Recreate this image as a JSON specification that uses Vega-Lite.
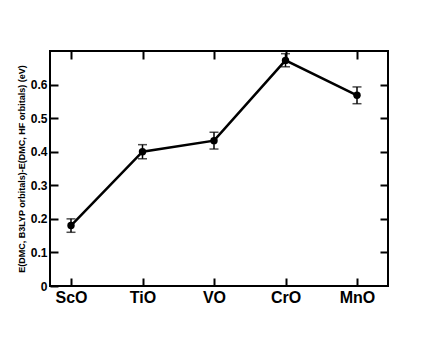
{
  "$schema": "https://vega.github.io/schema/vega-lite/v6.json",
  "autosize": "none",
  "width": 338,
  "height": 235,
  "padding": {"left": 50, "top": 51, "right": 48, "bottom": 51},
  "background": "white",
  "config": {
    "view": {"stroke": "black", "strokeWidth": 2},
    "font": "Liberation Sans",
    "axis": {"domain": false, "grid": false, "zindex": 1, "tickColor": "#000000", "tickWidth": 2, "tickOpacity": 1, "labelColor": "black", "labelFont": "Liberation Sans", "labelFontWeight": "bold", "titleFont": "Liberation Sans", "titleColor": "black"}
  },
  "data": {"values": [
    {"mol": "ScO", "e": 0.18, "lo": 0.16, "hi": 0.2},
    {"mol": "TiO", "e": 0.4, "lo": 0.379, "hi": 0.421},
    {"mol": "VO", "e": 0.433, "lo": 0.408, "hi": 0.458},
    {"mol": "CrO", "e": 0.672, "lo": 0.653, "hi": 0.692},
    {"mol": "MnO", "e": 0.568, "lo": 0.543, "hi": 0.593}
  ]},
  "resolve": {"axis": {"x": "independent", "y": "independent"}},
  "layer": [
    {
      "mark": {"type": "line", "color": "black", "strokeWidth": 2.5},
      "encoding": {
        "x": {"field": "mol", "type": "nominal", "sort": null,
              "scale": {"type": "point", "range": [21, 307], "padding": 0},
              "axis": {"orient": "bottom", "title": null, "labelAngle": 0, "labelFontSize": 16, "ticks": true, "tickColor": "#000000", "tickSize": 8, "offset": -8, "labelPadding": 3}},
        "y": {"field": "e", "type": "quantitative",
              "scale": {"domain": [0, 0.7], "nice": false, "zero": true},
              "axis": {"orient": "left", "values": [0, 0.1, 0.2, 0.3, 0.4, 0.5, 0.6], "format": ".1~f", "labelFontSize": 12, "ticks": true, "tickColor": "#000000", "tickSize": 8, "offset": -8, "labelPadding": 3,
                       "title": "E(DMC, B3LYP orbitals)-E(DMC, HF orbitals) (eV)", "titleFontSize": 9, "titleFontWeight": "bold", "titlePadding": 4}}
      }
    },
    {
      "mark": {"type": "point", "filled": true, "color": "black", "size": 55, "opacity": 1},
      "encoding": {
        "x": {"field": "mol", "type": "nominal", "sort": null,
              "axis": {"orient": "top", "title": null, "labels": false, "ticks": true, "tickColor": "#000000", "tickSize": 8, "offset": -8}},
        "y": {"field": "e", "type": "quantitative",
              "axis": {"orient": "right", "title": null, "labels": false, "ticks": true, "tickColor": "#000000", "values": [0.1, 0.2, 0.3, 0.4, 0.5, 0.6], "tickSize": 8, "offset": -8}}
      }
    },
    {
      "mark": {"type": "rule", "color": "black", "strokeWidth": 1.5},
      "encoding": {
        "x": {"field": "mol", "type": "nominal", "sort": null, "axis": null},
        "y": {"field": "lo", "type": "quantitative", "axis": null},
        "y2": {"field": "hi"}
      }
    },
    {
      "mark": {"type": "tick", "color": "black", "thickness": 1.5, "size": 9},
      "encoding": {
        "x": {"field": "mol", "type": "nominal", "sort": null, "axis": null},
        "y": {"field": "lo", "type": "quantitative", "axis": null}
      }
    },
    {
      "mark": {"type": "tick", "color": "black", "thickness": 1.5, "size": 9},
      "encoding": {
        "x": {"field": "mol", "type": "nominal", "sort": null, "axis": null},
        "y": {"field": "hi", "type": "quantitative", "axis": null}
      }
    }
  ]
}
